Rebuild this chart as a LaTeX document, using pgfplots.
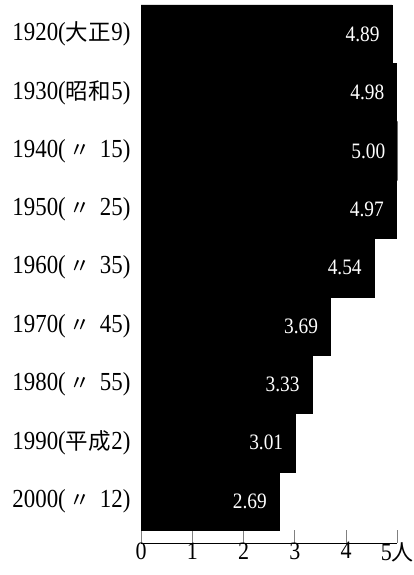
\documentclass[border=0pt]{standalone}
\usepackage{fontspec}
\setmainfont{Liberation Serif}
\newfontfamily\cjk{Noto Sans CJK JP}
\newfontfamily\cond[FakeStretch=0.88]{Liberation Serif}
\newcommand\era[2]{\makebox[57pt]{{\cjk\fontsize{22.5}{22.5}\selectfont #1}\hfill #2}}
\newcommand\dit[1]{\makebox[57pt]{\hspace{4pt}{\cjk\fontsize{21}{21}\selectfont 〃}\hfill #1}}
\usepackage{pgfplots}
\pgfplotsset{compat=1.18}
\begin{document}
\begin{tikzpicture}
\useasboundingbox (0,0) rectangle (413pt,575pt);
\begin{axis}[
  at={(141pt,32pt)}, anchor=south west,
  scale only axis,
  width=256.5pt, height=538pt,
  xmin=0, xmax=5, ymin=-0.72, ymax=8.5,
  xbar, bar width=1,
  axis x line=bottom, axis y line=left,
  x axis line style={-, line width=0.9pt},
  y axis line style={draw=none},
  xtick={0,1,2,3,4,5},
  xticklabels={0,1,2,3,4,5{\cjk\fontsize{22}{22}\selectfont 人}},
  xtick style={line width=0.9pt},
  major tick length=13pt,
  tick align=inside,
  ytick={0,1,2,3,4,5,6,7,8},
  yticklabels={
    2000(\dit{12}),
    1990(\era{平成}{2}),
    1980(\dit{55}),
    1970(\dit{45}),
    1960(\dit{35}),
    1950(\dit{25}),
    1940(\dit{15}),
    1930(\era{昭和}{5}),
    1920(\era{大正}{9})},
  ytick style={draw=none},
  yticklabel style={font=\cond\fontsize{26}{26}\selectfont, xshift=-7pt},
  xticklabel style={font=\cond\fontsize{25}{25}\selectfont, yshift=4pt},
  /pgf/number format/assume math mode=true,
  point meta=x,
  nodes near coords,
  nodes near coords style={/pgf/number format/.cd, fixed, zerofill, precision=2, /tikz/.cd,
    anchor=east, text=white, inner sep=0pt, xshift=-12pt,
    font=\cond\fontsize{22}{22}\selectfont},
]
\addplot[draw=black, fill=black, line width=0.5pt] coordinates {
  (2.69,0) (3.01,1) (3.33,2) (3.69,3) (4.54,4) (4.97,5) (5.00,6) (4.98,7) (4.89,8)
};
\end{axis}
\end{tikzpicture}
\end{document}
